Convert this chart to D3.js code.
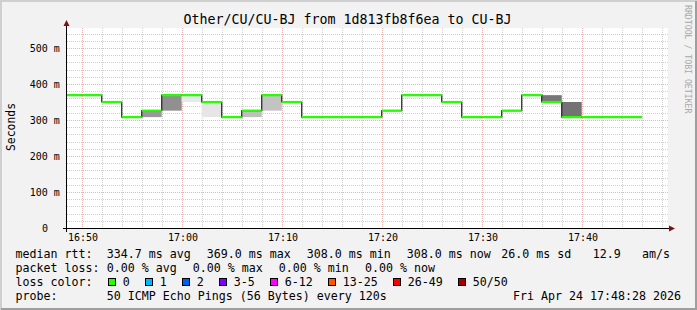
<!DOCTYPE html>
<html><head><meta charset="utf-8">
<script src="https://cdn.jsdelivr.net/npm/d3@7"></script>
<style>
html,body{margin:0;padding:0;background:#f2f2f2;}
svg{display:block;}
text{font-family:"DejaVu Sans Mono",monospace;fill:#000;}
</style></head><body>
<svg id="c" width="697" height="310"></svg>
<script>
// ---------------- data ----------------
const title = "Other/CU/CU-BJ from 1d813fb8f6ea to CU-BJ";
const yLabel = "Seconds";
const watermark = "RRDTOOL / TOBI OETIKER";
const rangeStart = "16:48:28";
const rangeEnd = "17:48:28";
const stepStarts = ["16:48","16:50","16:52","16:54","16:56","16:58","17:00","17:02","17:04","17:06",
                    "17:08","17:10","17:12","17:14","17:16","17:18","17:20","17:22","17:24","17:26",
                    "17:28","17:30","17:32","17:34","17:36","17:38","17:40","17:42","17:44"];
const lastStepEnd = "17:46";
const medianMs  = [369,369,350,308,326,369,369,350,308,326,
                   369,350,308,308,308,308,326,369,369,350,
                   308,308,326,369,350,308,308,308,308];
const smokeLowMs  = [null,null,null,null,308,326,350,308,null,308,
                     326,null,null,null,null,null,null,null,null,null,
                     null,null,null,null,350,308,null,null,null];
const smokeHighMs = [null,null,null,null,326,369,369,350,null,326,
                     369,null,null,null,null,null,null,null,null,null,
                     null,null,null,null,369,350,null,null,null];
const smokeDensity = [0,0,0,0,0.67,0.74,0.06,0.08,0,0.38,
                      0.35,0,0,0,0,0,0,0,0,0,
                      0,0,0,0,0.93,0.96,0,0,0];
const lossPct = medianMs.map(() => 0);
const yTickValues = [0,100,200,300,400,500];
const xTickLabels = ["16:50","17:00","17:10","17:20","17:30","17:40"];
const lossLegendLabels = ["0","1","2","3-5","6-12","13-25","26-49","50/50"];
const lossLegendThresholds = [0,1,2,3,6,13,26,50];
const rttStats = ["334.7 ms avg","369.0 ms max","308.0 ms min","308.0 ms now","26.0 ms sd","12.9","am/s"];
const lossStats = ["0.00 % avg","0.00 % max","0.00 % min","0.00 % now"];
const probeText = "50 ICMP Echo Pings (56 Bytes) every 120s";
const dateText = "Fri Apr 24 17:48:28 2026";

// ---------------- styles / layout ----------------
const W = 697, H = 310;
const plot = {left: 67, right: 668, top: 28, bottom: 228};
const lossColors = ["#26ff00","#00b8ff","#0059ff","#7e00ff","#ff00ff","#ff5500","#ff0000","#a10000"];
const arrowColor = "#7f1010";

const svg = d3.select("#c");
const toDate = s => { const p = s.split(":").map(Number); return new Date(Date.UTC(2026,3,24,p[0],p[1],p[2]||0)); };

const x = d3.scaleTime().domain([toDate(rangeStart), toDate(rangeEnd)]).range([66.4, 666.4]);
const y = d3.scaleLinear().domain([0, 555.56]).range([plot.bottom, plot.top]);
const lossScale = d3.scaleThreshold().domain(lossLegendThresholds.slice(1)).range(lossColors);
const smokeColor = d3.scaleLinear().domain([0,1]).range(["#f0f0f0","#6e6e6e"]).interpolate(d3.interpolateRgb);

// background and frame
svg.append("rect").attr("width",W).attr("height",H).attr("fill","#f2f2f2");
svg.append("path").attr("d",`M0,${H} V0 H${W}`).attr("stroke","#cfcfcf").attr("stroke-width",2).attr("fill","none").attr("transform","translate(1,1)");
svg.append("path").attr("d",`M1,${H-1} H${W-1} V1`).attr("stroke","#9e9e9e").attr("stroke-width",2).attr("fill","none");
svg.append("rect").attr("x",plot.left).attr("y",plot.top).attr("width",plot.right-plot.left).attr("height",plot.bottom-plot.top).attr("fill","#fff");

// grid
const g = svg.append("g");
const minorY = d3.range(0, 555, 20).filter(v => v % 100 !== 0);
const majorY = d3.range(0, 555, 100).filter(v => v > 0);
const xTimes = d3.utcMinute.every(2).range(toDate("16:48:28"), toDate("17:48:29"));
const minorX = xTimes.filter(t => t.getUTCMinutes() % 10 !== 0);
const majorX = xTimes.filter(t => t.getUTCMinutes() % 10 === 0);
g.selectAll(".my").data(minorY).join("line")
  .attr("x1",plot.left).attr("x2",plot.right).attr("y1",d=>Math.round(y(d))+0.5).attr("y2",d=>Math.round(y(d))+0.5)
  .attr("stroke","#cfcfcf").attr("stroke-dasharray","1,1");
g.selectAll(".mx").data(minorX).join("line")
  .attr("y1",plot.top).attr("y2",plot.bottom).attr("x1",d=>Math.round(x(d))+0.5).attr("x2",d=>Math.round(x(d))+0.5)
  .attr("stroke","#cfcfcf").attr("stroke-dasharray","1,1");
g.selectAll(".My").data(majorY).join("line")
  .attr("x1",plot.left).attr("x2",plot.right).attr("y1",d=>Math.round(y(d))+0.5).attr("y2",d=>Math.round(y(d))+0.5)
  .attr("stroke","#eab4b4").attr("stroke-dasharray","1,1");
g.selectAll(".Mx").data(majorX).join("line")
  .attr("y1",plot.top).attr("y2",plot.bottom).attr("x1",d=>Math.round(x(d))+0.5).attr("x2",d=>Math.round(x(d))+0.5)
  .attr("stroke","#eab4b4").attr("stroke-dasharray","1,1");

// steps
const steps = stepStarts.map((s,i) => ({
  t0: toDate(s), t1: toDate(i < stepStarts.length-1 ? stepStarts[i+1] : lastStepEnd),
  med: medianMs[i], lo: smokeLowMs[i], hi: smokeHighMs[i], dens: smokeDensity[i], loss: lossPct[i]
}));
const xc = t => Math.max(plot.left, x(t));

// smoke
svg.append("g").selectAll("rect").data(steps.filter(d => d.lo != null)).join("rect")
  .attr("x", d => xc(d.t0)).attr("width", d => x(d.t1) - xc(d.t0))
  .attr("y", d => y(d.hi)).attr("height", d => y(d.lo) - y(d.hi))
  .attr("fill", d => smokeColor(d.dens));

// median dark step line
const pts = steps.map(d => [xc(d.t0), y(d.med)]);
pts.push([x(steps[steps.length-1].t1), y(steps[steps.length-1].med)]);
svg.append("path").attr("d", d3.line().curve(d3.curveStepAfter)(pts))
  .attr("fill","none").attr("stroke","#202020").attr("stroke-width",1.2);

// loss coloured median segments
svg.append("g").selectAll("line").data(steps).join("line")
  .attr("x1", d => xc(d.t0)).attr("x2", d => x(d.t1))
  .attr("y1", d => y(d.med)).attr("y2", d => y(d.med))
  .attr("stroke", d => lossScale(d.loss)).attr("stroke-width", 2.2);

// axes lines
svg.append("line").attr("x1",66.5).attr("x2",66.5).attr("y1",232).attr("y2",24).attr("stroke","#000");
svg.append("line").attr("x1",63).attr("x2",670).attr("y1",228.5).attr("y2",228.5).attr("stroke","#000");
svg.append("path").attr("d","M63.5,26 L69.5,26 L66.5,20 Z").attr("fill",arrowColor);
svg.append("path").attr("d","M669,225.5 L669,231.5 L675,228.5 Z").attr("fill",arrowColor);

// x axis labels
const xAxis = d3.axisBottom(x).tickValues(xTickLabels.map(toDate)).tickSize(0).tickPadding(0)
  .tickFormat(d3.utcFormat("%H:%M"));
const xg = svg.append("g").call(xAxis);
xg.select(".domain").remove();
xg.selectAll("text").attr("y",241).attr("dy",null).attr("font-size","10px")
  .attr("font-family","DejaVu Sans Mono").attr("fill","#000")
  .attr("x", d => Math.round(x(d)) + 0.5 - x(d));

// y axis labels
const yAxis = d3.axisLeft(y).tickValues(yTickValues).tickSize(0).tickPadding(0)
  .tickFormat(v => v === 0 ? "0" : v + " m");
const yg = svg.append("g").call(yAxis);
yg.select(".domain").remove();
yg.selectAll("text").attr("font-size","10px").attr("font-family","DejaVu Sans Mono").attr("fill","#000")
  .attr("dy","0.34em").attr("x", d => d === 0 ? 48 : 59.8);

// title
svg.append("text").attr("x",347.5).attr("y",24).attr("text-anchor","middle").attr("font-size","13.3px").text(title);
// y label
svg.append("text").attr("transform","translate(15,127) rotate(-90)").attr("text-anchor","middle")
  .attr("font-size","11.4px").text(yLabel);
// watermark
svg.append("text").attr("transform","translate(685,5) rotate(90)").attr("font-size","8.2px")
  .style("fill","#a8a8a8").text(watermark);

// legend
const lf = "11.63px";
const leg = svg.append("g").attr("font-size", lf);
const rows = [258, 272, 286, 300];
leg.append("text").attr("x",15.5).attr("y",rows[0]).text("median rtt:");
const rttX = [106.7,206.7,306.7,406.7,501.2,592.7,642.1];
rttStats.forEach((s,i) => leg.append("text").attr("x",rttX[i]).attr("y",rows[0]).text(s));
leg.append("text").attr("x",15.5).attr("y",rows[1]).text("packet loss:");
const lossX = [106.7,192.7,278.7,365.1];
lossStats.forEach((s,i) => leg.append("text").attr("x",lossX[i]).attr("y",rows[1]).text(s));
leg.append("text").attr("x",15.5).attr("y",rows[2]).text("loss color:");
let cx = 108.3;
lossLegendLabels.forEach((lab,i) => {
  leg.append("rect").attr("x",Math.round(cx)+0.5).attr("y",278.5).attr("width",7).attr("height",7)
    .attr("fill", lossScale(lossLegendThresholds[i])).attr("stroke","#000");
  const t = leg.append("text").attr("x",cx+14.4).attr("y",rows[2]).text(lab);
  cx = cx + 15 + t.node().getComputedTextLength() + 15;
});
leg.append("text").attr("x",15.5).attr("y",rows[3]).text("probe:");
leg.append("text").attr("x",106.7).attr("y",rows[3]).text(probeText);
leg.append("text").attr("x",681).attr("y",rows[3]).attr("text-anchor","end").text(dateText);
</script>
</body></html>
